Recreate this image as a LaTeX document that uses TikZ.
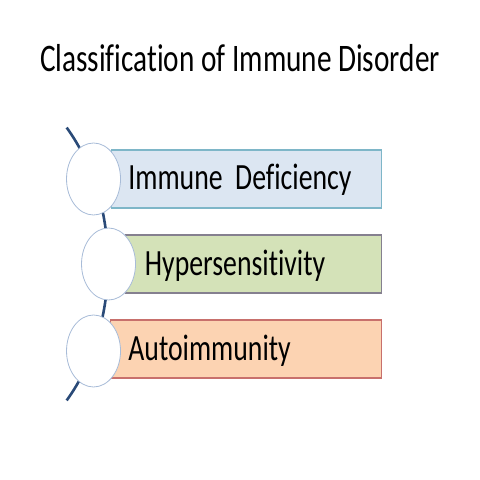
\documentclass[tikz,border=0pt]{standalone}
\usepackage{fontspec}
\setmainfont{Carlito}[Ligatures=CommonOff]
\definecolor{blueFill}{HTML}{DCE6F2}
\definecolor{blueLine}{HTML}{7EB6C8}
\definecolor{greenFill}{HTML}{D4E2B8}
\definecolor{greenLine}{HTML}{85808F}
\definecolor{peachFill}{HTML}{FCD3B2}
\definecolor{peachLine}{HTML}{C8706C}
\definecolor{arcLine}{HTML}{2A4A78}
\definecolor{circLine}{HTML}{A8BCD8}
\tikzset{
  itembox/.style={draw, line width=1.2pt, minimum height=58pt, inner sep=0pt},
  bead/.style={circle, draw=circLine, fill=white, line width=0.8pt, minimum size=72pt, inner sep=0pt},
  itemtext/.style={anchor=base west, inner sep=0pt, font=\fontsize{37}{44}\selectfont},
}
\begin{document}
\begin{tikzpicture}[x=1pt, y=1pt, xscale=0.75, transform shape]
\useasboundingbox (0,0) rectangle (640,480);
\fill[white] (0,0) rectangle (640,480);
\node[anchor=base, inner sep=0pt, font=\fontsize{39}{47}\selectfont] (title) at (320,408) {Classification of Immune Disorder};
% boxes
\draw[itembox, draw=blueLine, fill=blueFill] (149,272) rectangle (509,330);
\coordinate (b1) at (149,301);
\draw[itembox, draw=greenLine, fill=greenFill] (167,187) rectangle (509,245);
\coordinate (b2) at (167,216);
\draw[itembox, draw=peachLine, fill=peachFill] (147,102) rectangle (509,160);
\coordinate (b3) at (147,131);
% arc
\coordinate (ac) at (-52.4,216);
\draw[arcLine, line width=2.6pt] ([shift={(-44:196.4)}]ac) arc[start angle=-44, end angle=44, radius=196.4];
% beads
\node[bead] (c1) at (124.7,301) {};
\node[bead] (c2) at (144.7,216) {};
\node[bead] (c3) at (124.7,129) {};
% texts
\node[itemtext] (t1) at (171,290) {Immune\ \ Deficiency};
\node[itemtext] (t2) at (193,204.5) {Hypersensitivity};
\node[itemtext] (t3) at (171,119.5) {Autoimmunity};
\end{tikzpicture}
\end{document}
